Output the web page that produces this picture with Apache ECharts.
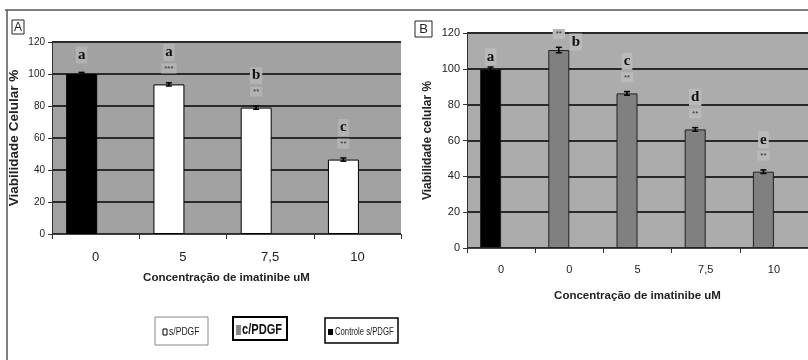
<!DOCTYPE html>
<html><head><meta charset="utf-8">
<script src="https://cdn.jsdelivr.net/npm/echarts@6/dist/echarts.min.js"></script>
<style>html,body{margin:0;padding:0;background:#fff}#c{width:808px;height:360px}</style>
</head><body><div id="c"></div>
<script>
// ---- data ----
const catsA = ['0', '5', '7,5', '10'];
const valsA = [100, 93.5, 79, 46.5];
const errA = [1, 1, 1, 1];
const lettersA = ['a', 'a', 'b', 'c'];
const starsA = ['', '***', '**', '**'];

const catsB = ['0', '0', '5', '7,5', '10'];
const valsB = [100, 110.5, 86.3, 66.2, 42.6];
const errB = [1, 1.5, 1, 1, 1];
const lettersB = ['a', 'b', 'c', 'd', 'e'];
const starsB = ['', '**', '**', '**', '**'];

const yTicks = [0, 20, 40, 60, 80, 100, 120];
const xTitle = 'Concentração de imatinibe uM';
const legendItems = ['s/PDGF', 'c/PDGF', 'Controle s/PDGF'];

// ---- chart ----
const SANS = '"Liberation Sans",Arial,sans-serif';
const SERIF = '"Liberation Serif","DejaVu Serif",serif';

function yAxis(gridIndex, name, fs, nfs, gap) {
  return {
    gridIndex, type: 'value', min: yTicks[0], max: yTicks[yTicks.length - 1], interval: 20,
    name, nameLocation: 'middle', nameGap: gap,
    nameTextStyle: {fontFamily: SANS, fontWeight: 'bold', fontSize: nfs, color: '#222'},
    axisLine: {show: true, lineStyle: {color: '#333', width: 1}},
    axisTick: {show: true, length: 4, lineStyle: {color: '#333'}},
    axisLabel: {fontFamily: SANS, fontSize: fs, color: '#222', margin: 7},
    splitLine: {show: true, lineStyle: {color: '#2a2a2a', width: 2}}
  };
}
function xAxis(gridIndex, cats, fs, margin, gap) {
  return {
    gridIndex, type: 'category', data: cats,
    name: xTitle, nameLocation: 'middle', nameGap: gap,
    nameTextStyle: {fontFamily: SANS, fontWeight: 'bold', fontSize: 11.5, color: '#222'},
    axisLine: {show: true, lineStyle: {color: '#444', width: 1}},
    axisTick: {show: true, length: 5, inside: false, lineStyle: {color: '#333'}},
    axisLabel: {fontFamily: SANS, fontSize: fs, color: '#222', margin},
    splitLine: {show: false}
  };
}

function barSeries(idx, vals, otherColor, border, width, gap) {
  return [{
    type: 'bar', xAxisIndex: idx, yAxisIndex: idx, barWidth: width, barGap: gap, z: 3,
    data: vals.map((v, i) => ({
      value: v,
      itemStyle: {color: i === 0 ? '#000' : otherColor, borderColor: border, borderWidth: 1}
    }))
  }, {
    type: 'bar', xAxisIndex: idx, yAxisIndex: idx, barWidth: width, barGap: gap,
    data: vals.map(() => null)
  }];
}

function annotSeries(idx, vals, errs, letters, stars, offset, labelBg, rightLetterIdx, plainGap) {
  return {
    type: 'custom', xAxisIndex: idx, yAxisIndex: idx, z: 5,
    data: vals.map((v, i) => [i, v, errs[i]]),
    renderItem: (params, api) => {
      const i = api.value(0), v = api.value(1), e = api.value(2);
      const top = api.coord([i, v + e]);
      const bot = api.coord([i, v - e]);
      const x = top[0] + offset;
      const barTop = api.coord([i, v])[1];
      const c = [];
      c.push({type: 'line', shape: {x1: x, y1: top[1], x2: x, y2: bot[1]}, style: {stroke: '#000', lineWidth: 1.5}});
      c.push({type: 'line', shape: {x1: x - 3, y1: top[1], x2: x + 3, y2: top[1]}, style: {stroke: '#000', lineWidth: 1.5}});
      c.push({type: 'line', shape: {x1: x - 3, y1: bot[1], x2: x + 3, y2: bot[1]}, style: {stroke: '#000', lineWidth: 1.5}});
      const s = stars[i];
      if (s) {
        c.push({type: 'text', x: x, y: barTop - 16, style: {
          text: s, fontSize: 8, fontFamily: SANS, fill: '#333', align: 'center', verticalAlign: 'middle',
          backgroundColor: labelBg, padding: [2, 3, 0, 3]}});
      }
      let lx = x, ly = s ? barTop - 32 : barTop - plainGap;
      if (i === rightLetterIdx) { lx = x + 17; ly = barTop - 8; }
      c.push({type: 'text', x: lx, y: ly, style: {
        text: letters[i], fontSize: 15, fontWeight: 'bold', fontFamily: SERIF, fill: '#111',
        align: 'center', verticalAlign: 'middle', backgroundColor: labelBg, padding: [1, 2, 1, 2]}});
      return {type: 'group', children: c};
    }
  };
}

const chart = echarts.init(document.getElementById('c'), null, {renderer: 'canvas'});
chart.setOption({
  animation: false,
  backgroundColor: '#fff',
  grid: [
    {left: 52, top: 42, width: 349, height: 192, show: true, backgroundColor: '#a2a2a2', borderWidth: 0},
    {left: 467, top: 33, width: 341, height: 215, show: true, backgroundColor: '#acacac', borderWidth: 0}
  ],
  xAxis: [xAxis(0, catsA, 13, 17, 38), xAxis(1, catsB, 11, 16, 42)],
  yAxis: [yAxis(0, 'Viabilidade Celular %', 10, 13.5, 31), yAxis(1, 'Viabilidade celular %', 11, 12, 33)],
  series: [
    ...barSeries(0, valsA, '#fff', '#000', 31, '-10%'),
    ...barSeries(1, valsB, '#808080', '#222', 21, '0%'),
    annotSeries(0, valsA, errA, lettersA, starsA, -14, '#b2b2b2', -1, 19),
    annotSeries(1, valsB, errB, lettersB, starsB, -10.5, '#bababa', 1, 12)
  ],
  graphic: [
    {type: 'line', shape: {x1: 5, y1: 10, x2: 808, y2: 10}, style: {stroke: '#555', lineWidth: 1.5}},
    {type: 'line', shape: {x1: 7, y1: 10, x2: 7, y2: 360}, style: {stroke: '#555', lineWidth: 1.5}},
    {type: 'rect', shape: {x: 12, y: 20, width: 12, height: 14}, style: {fill: '#fff', stroke: '#222', lineWidth: 1}},
    {type: 'text', x: 18, y: 27.5, style: {text: 'A', fontFamily: SANS, fontSize: 12, fill: '#222', align: 'center', verticalAlign: 'middle'}},
    {type: 'rect', shape: {x: 415, y: 21, width: 17, height: 16}, style: {fill: '#fff', stroke: '#222', lineWidth: 1}},
    {type: 'text', x: 423.5, y: 29.5, style: {text: 'B', fontFamily: SANS, fontSize: 13, fill: '#222', align: 'center', verticalAlign: 'middle'}},
    // legend box 1
    {type: 'rect', shape: {x: 155, y: 317, width: 53, height: 28}, style: {fill: '#fff', stroke: '#888', lineWidth: 1}},
    {type: 'rect', shape: {x: 163, y: 329, width: 4, height: 6}, style: {fill: '#fff', stroke: '#000', lineWidth: 1}},
    {type: 'text', x: 169, y: 332, scaleX: 0.78, style: {text: legendItems[0], fontFamily: SANS, fontSize: 11, fill: '#222', verticalAlign: 'middle'}},
    // legend box 2
    {type: 'rect', shape: {x: 233, y: 317, width: 54, height: 23}, style: {fill: '#fff', stroke: '#000', lineWidth: 2}},
    {type: 'rect', shape: {x: 236, y: 325, width: 5, height: 10}, style: {fill: '#888', stroke: null}},
    {type: 'text', x: 242, y: 330, scaleX: 0.74, style: {text: legendItems[1], fontFamily: SANS, fontSize: 15, fontWeight: 'bold', fill: '#111', verticalAlign: 'middle'}},
    // legend box 3
    {type: 'rect', shape: {x: 325, y: 318, width: 73, height: 25}, style: {fill: '#fff', stroke: '#000', lineWidth: 1.5}},
    {type: 'rect', shape: {x: 328, y: 329, width: 5, height: 6}, style: {fill: '#000', stroke: null}},
    {type: 'text', x: 335, y: 332, scaleX: 0.7, style: {text: legendItems[2], fontFamily: SANS, fontSize: 11, fill: '#222', verticalAlign: 'middle'}}
  ]
});
</script></body></html>
